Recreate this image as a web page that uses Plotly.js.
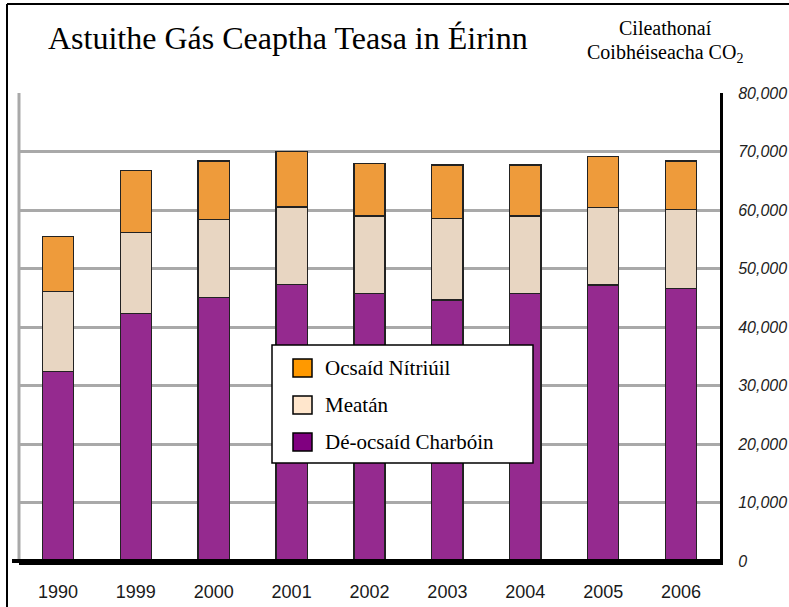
<!DOCTYPE html>
<html>
<head>
<meta charset="utf-8">
<script src="https://cdn.plot.ly/plotly-3.0.1.min.js"></script>
<style>
  html, body { margin: 0; padding: 0; background: #fff; overflow: hidden; }
  #chart { width: 789px; height: 607px; }
</style>
</head>
<body>
<div id="chart"></div>
<script>
// ---- Data (kilotonnes CO2 equivalent) ----
const years = ["1990", "1999", "2000", "2001", "2002", "2003", "2004", "2005", "2006"];
const co2   = [32400, 42300, 45000, 47300, 45700, 44600, 45700, 47200, 46600];
const ch4   = [13700, 13900, 13400, 13200, 13300, 13900, 13300, 13200, 13500];
const n2o   = [9400, 10500, 10000, 9500, 9000, 9200, 8700, 8700, 8300];
const seriesNames = ["Dé-ocsaíd Charbóin", "Meatán", "Ocsaíd Nítriúil"];
const yTicks = [0, 10000, 20000, 30000, 40000, 50000, 60000, 70000, 80000];

const titleText = "Astuithe Gás Ceaptha Teasa in Éirinn";
const unitLine1 = "Cileathonaí";
const unitLine2 = "Coibhéiseacha CO<sub>2</sub>";

// ---- Geometry helpers (pixel -> paper) ----
const L = 19, R = 69, T = 93, B = 46, W = 789, H = 607;
const PW = W - L - R, PH = H - T - B;
const px = v => (v - L) / PW;
const py = v => (H - B - v) / PH;

const barColors = ["#952a8f", "#e8d6c2", "#ee9b3b"];
const legendColors = ["#800080", "#ffe6cc", "#ff9900"];
const outline = { color: "#222", width: 1.3 };

const traces = [co2, ch4, n2o].map((vals, i) => ({
  type: "bar",
  x: years,
  y: vals,
  name: seriesNames[i],
  marker: { color: barColors[i], line: outline },
  width: 0.4,
  showlegend: false,
  hoverinfo: "skip"
}));

const serif = "Liberation Serif, Times New Roman, serif";
const sans = "Liberation Sans, Arial, sans-serif";

const shapes = [
  // outer frame (left & top visible)
  { type: "line", xref: "paper", yref: "paper", x0: px(7), x1: px(7), y0: py(H + 5), y1: py(4), line: { color: "#000", width: 2 } },
  { type: "line", xref: "paper", yref: "paper", x0: px(7), x1: px(W + 5), y0: py(4), y1: py(4), line: { color: "#000", width: 2 } },
  // left grey frame of plot
  { type: "line", xref: "paper", yref: "paper", x0: px(19), x1: px(19), y0: 0, y1: 1, line: { color: "#a9a9a9", width: 3 } },
  // bottom black baseline extension
  { type: "line", xref: "paper", yref: "paper", x0: px(12), x1: 1, y0: 0, y1: 0, line: { color: "#000", width: 4 } },
  // legend box
  { type: "rect", xref: "paper", yref: "paper", x0: px(272), x1: px(533), y0: py(463), y1: py(345), line: { color: "#000", width: 1.5 }, fillcolor: "#fff", layer: "above" }
];

const annotations = [
  { text: titleText, xref: "paper", yref: "paper", x: px(46), y: py(38), xanchor: "left", yanchor: "middle", showarrow: false, font: { family: serif, size: 32, color: "#000" } },
  { text: unitLine1, xref: "paper", yref: "paper", x: px(665), y: py(28), xanchor: "center", yanchor: "middle", showarrow: false, font: { family: serif, size: 20, color: "#000" } },
  { text: unitLine2, xref: "paper", yref: "paper", x: px(665), y: py(53), xanchor: "center", yanchor: "middle", showarrow: false, font: { family: serif, size: 20, color: "#000" } }
];

// custom legend (order: N2O, CH4, CO2)
const legendOrder = [2, 1, 0];
const rowCenters = [368, 405, 442];
legendOrder.forEach((si, r) => {
  const c = rowCenters[r];
  shapes.push({ type: "rect", xref: "paper", yref: "paper", x0: px(293), x1: px(312), y0: py(c + 9), y1: py(c - 9), line: { color: "#000", width: 1.5 }, fillcolor: legendColors[si], layer: "above" });
  annotations.push({ text: seriesNames[si], xref: "paper", yref: "paper", x: px(323), y: py(c), xanchor: "left", yanchor: "middle", showarrow: false, font: { family: serif, size: 21, color: "#000" } });
});

const layout = {
  width: W, height: H,
  margin: { l: L, r: R, t: T, b: B, pad: 0 },
  paper_bgcolor: "#fff",
  plot_bgcolor: "#fff",
  barmode: "stack",
  showlegend: false,
  xaxis: {
    type: "category",
    showgrid: false,
    showline: true, linecolor: "#000", linewidth: 4,
    ticks: "", ticklabelstandoff: 11,
    tickfont: { family: sans, size: 18, color: "#1a1a1a" },
    fixedrange: true
  },
  yaxis: {
    side: "right",
    range: [0, 80000],
    tickvals: yTicks,
    tickformat: ",",
    showgrid: true, gridcolor: "#a9a9a9", gridwidth: 3,
    zeroline: false,
    showline: true, linecolor: "#000", linewidth: 3,
    ticks: "", ticklabelstandoff: 12,
    tickfont: { family: sans, size: 16, color: "#222", style: "italic" },
    fixedrange: true
  },
  shapes: shapes,
  annotations: annotations
};

Plotly.newPlot("chart", traces, layout, { displayModeBar: false, staticPlot: true });
</script>
</body>
</html>
